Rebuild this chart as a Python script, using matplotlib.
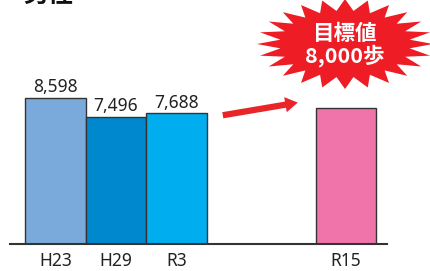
import numpy as np
import matplotlib
matplotlib.use("Agg")
import matplotlib.pyplot as plt
from matplotlib.patches import Polygon

plt.rcParams['font.family'] = ['Noto Sans', 'Noto Sans CJK JP', 'DejaVu Sans']

# data
categories = ["H23", "H29", "R3", "R15"]
steps = [8598, 7496, 7688, 8000]
colors = ["#7aaadb", "#0088cf", "#00aeef", "#f073a9"]
value_labels = ["8,598", "7,496", "7,688", ""]
target_text = "目標値\n8,000歩"
title = "男性"

positions = [0, 1, 2, 4.8]

W, H = 431, 271
fig = plt.figure(figsize=(W / 100, H / 100), dpi=100)
ax = fig.add_axes([10 / W, 27 / H, 377 / W, 244 / H])

ax.bar(positions, steps, width=1.0, color=colors, edgecolor="#333333", linewidth=1.0, zorder=2)
for x, v, lab in zip(positions, steps, value_labels):
    if lab:
        ax.text(x, v + 100, lab, ha="center", va="bottom", fontsize=12.5, color="#222222")

ax.set_xlim(-0.752, 5.479)
ax.set_ylim(0, 14360)
ax.set_xticks(positions)
ax.set_xticklabels(categories, fontsize=12.5, color="#222222")
ax.tick_params(axis="x", length=0, pad=6)
ax.set_yticks([])
for s in ["top", "right", "left"]:
    ax.spines[s].set_visible(False)
ax.spines["bottom"].set_linewidth(1.5)
ax.spines["bottom"].set_color("#333333")

# arrow from R3 toward target
ax.annotate("", xy=(4.05, 8350), xytext=(2.72, 7550),
            arrowprops=dict(arrowstyle="simple,head_width=1.1,head_length=0.9,tail_width=0.45",
                            color="#e8262a", lw=0), annotation_clip=False)

# starburst overlay in pixel coords
ov = fig.add_axes([0, 0, 1, 1])
ov.set_xlim(0, W)
ov.set_ylim(H, 0)
ov.axis("off")
n = 24
ang = np.linspace(0, 2 * np.pi, 2 * n, endpoint=False)
r = np.where(np.arange(2 * n) % 2 == 0, 1.0, 0.74)
cx, cy = 345, 44
px = cx + 88 * r * np.cos(ang)
py = cy + 45 * r * np.sin(ang)
ov.add_patch(Polygon(np.column_stack([px, py]), closed=True, color="#ee1c25", lw=0))
ov.text(cx, cy + 1, target_text, ha="center", va="center", fontsize=15.5, color="white",
        fontweight="bold", linespacing=1.05, family=['Noto Sans CJK JP', 'DejaVu Sans'])

ov.text(23, 7, title, ha="left", va="bottom", fontsize=18, fontweight="bold", color="#111111",
        family=['Noto Sans CJK JP', 'DejaVu Sans'])

fig.savefig("out.png", dpi=100)
